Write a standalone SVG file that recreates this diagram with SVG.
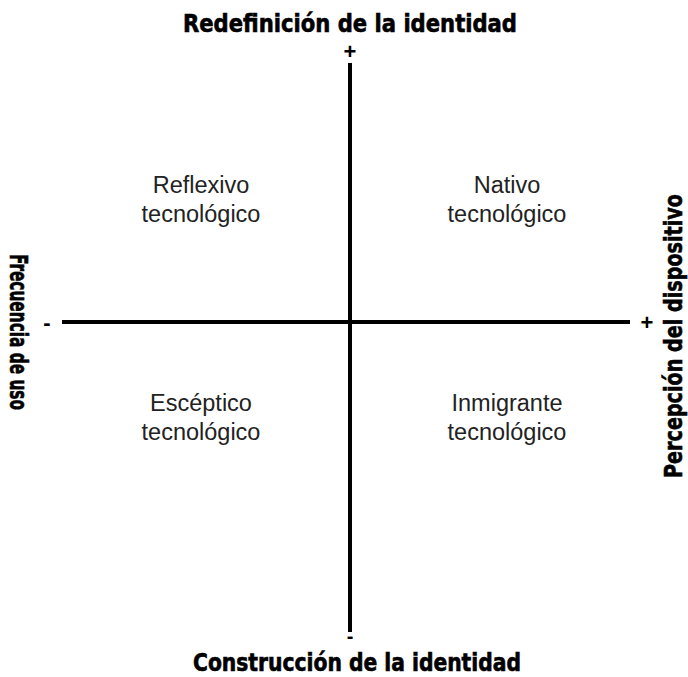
<svg xmlns="http://www.w3.org/2000/svg" width="688" height="677" viewBox="0 0 688 677">
<style>
.axis{font-family:"DejaVu Sans Condensed","DejaVu Sans","Liberation Sans",sans-serif;font-stretch:condensed;font-weight:bold;font-size:25px;fill:#000;stroke:#000;stroke-width:0.6}
.sign{font-family:"Liberation Sans",Arial,sans-serif;font-weight:bold;font-size:22px;fill:#000}
.q{font-family:"Liberation Sans",Arial,sans-serif;font-size:23.5px;fill:#222;text-anchor:middle}
.ln{stroke:#000;stroke-width:4;fill:none}
</style>
<rect width="688" height="677" fill="#fff"/>
<g id="connectors">
<line class="ln" x1="350" y1="63" x2="350" y2="632"/>
<line class="ln" x1="62" y1="322" x2="630" y2="322"/>
</g>
<g id="axis-top">
<text class="axis" x="350" y="32" text-anchor="middle" textLength="334" lengthAdjust="spacingAndGlyphs">Redefinición de la identidad</text>
<text class="sign" x="350" y="59" text-anchor="middle">+</text>
</g>
<g id="axis-bottom">
<text class="axis" x="357" y="671" text-anchor="middle" textLength="328" lengthAdjust="spacingAndGlyphs">Construcción de la identidad</text>
<text class="sign" x="350" y="643" text-anchor="middle" style="font-size:20px">-</text>
</g>
<g id="axis-left">
<text class="axis" transform="translate(10,332) rotate(90)" text-anchor="middle" textLength="156" lengthAdjust="spacingAndGlyphs">Frecuencia de uso</text>
<text class="sign" x="47" y="330" text-anchor="middle">-</text>
</g>
<g id="axis-right">
<text class="axis" transform="translate(682,336) rotate(-90)" text-anchor="middle" textLength="284" lengthAdjust="spacingAndGlyphs">Percepción del dispositivo</text>
<text class="sign" x="647" y="330" text-anchor="middle">+</text>
</g>
<g id="q-reflexivo"><text class="q" x="201" y="193">Reflexivo</text><text class="q" x="201" y="222">tecnológico</text></g>
<g id="q-nativo"><text class="q" x="507" y="193">Nativo</text><text class="q" x="507" y="222">tecnológico</text></g>
<g id="q-esceptico"><text class="q" x="201" y="411">Escéptico</text><text class="q" x="201" y="440">tecnológico</text></g>
<g id="q-inmigrante"><text class="q" x="507" y="411">Inmigrante</text><text class="q" x="507" y="440">tecnológico</text></g>
</svg>
